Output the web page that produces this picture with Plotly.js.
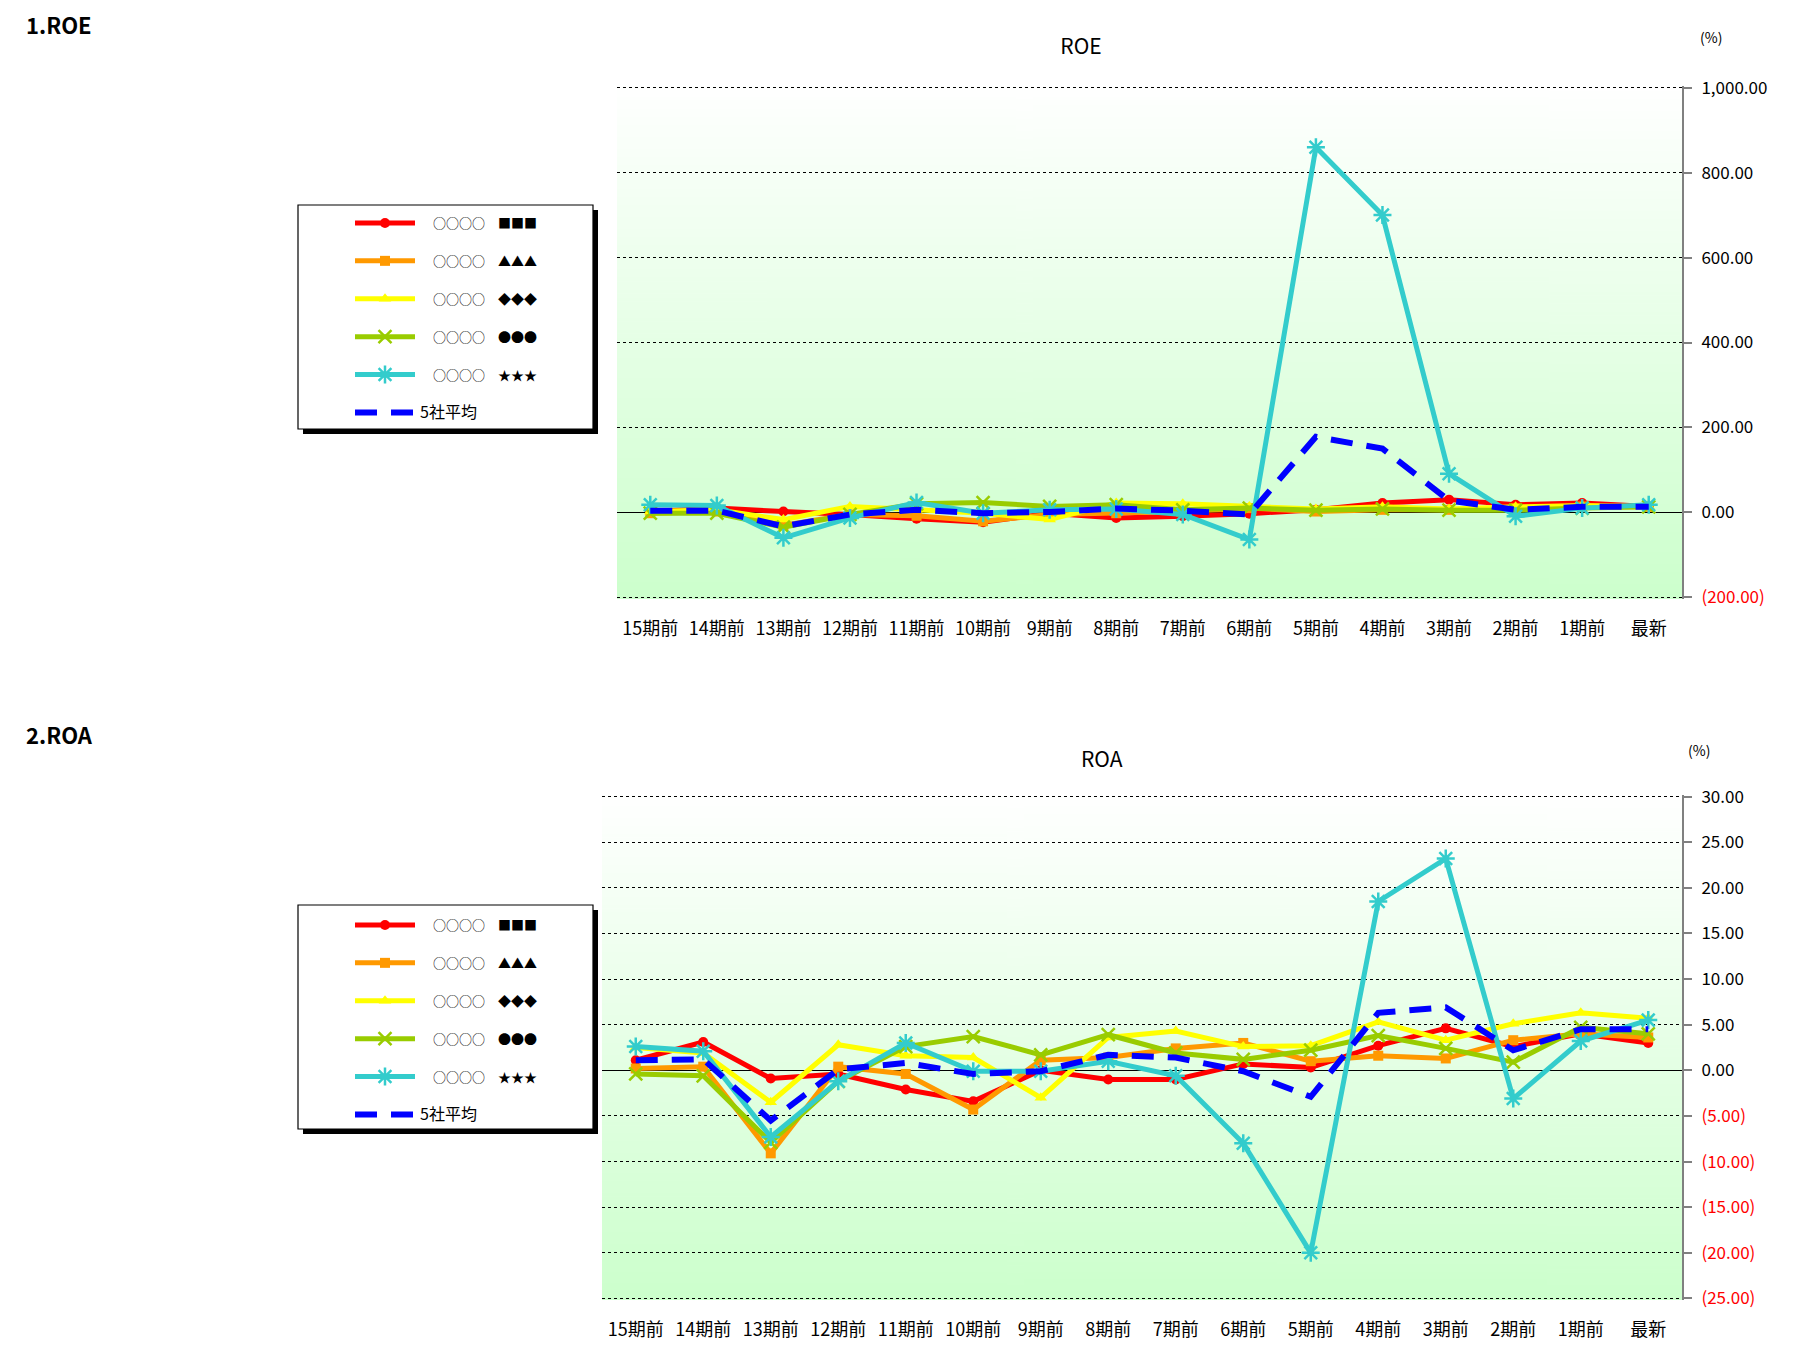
<!DOCTYPE html>
<html><head><meta charset="utf-8">
<script src="https://cdn.plot.ly/plotly-3.0.1.min.js"></script>
<style>html,body{margin:0;padding:0;background:#fff}#chart{width:1819px;height:1351px}</style>
</head><body><div id="chart"></div>
<script>
// ---------- data ----------
const categories = ['15期前','14期前','13期前','12期前','11期前','10期前','9期前','8期前','7期前','6期前','5期前','4期前','3期前','2期前','1期前','最新'];
const seriesNames = ['○○○○　■■■','○○○○　▲▲▲','○○○○　◆◆◆','○○○○　●●●','○○○○　★★★','5社平均'];

const roeRed    = [2, 10, 2, -5, -15, -23, -2, -13, -9, -3, 6, 22, 30, 18, 22, 14];
const roeOrange = [-2, 2, -30, -5, -8, -21, -5, -2, 2, 10, 2, 6, 6, 10, 14, 13];
const roeYellow = [2, 6, -17, 14, 6, -2, -17, 22, 20, 14, 8, 13, 8, 13, 16, 14];
const roeGreen  = [-2, -2, -35, -5, 20, 23, 14, 18, 6, 10, 5, 8, 5, 5, 10, 13];
const roeCyan   = [18, 16, -60, -13, 23, -2, 6, 8, -5, -64, 860, 700, 91, -9, 10, 18];
const roeAvg    = [4, 4, -33, -5, 6, -2, 1, 9, 4, -5, 178, 150, 28, 6, 13, 13];

const roaRed    = [1.1, 3.1, -0.9, -0.4, -2.1, -3.4, 0.0, -1.0, -1.0, 0.7, 0.3, 2.7, 4.6, 2.6, 4.0, 3.0];
const roaOrange = [0.2, 0.4, -9.1, 0.4, -0.4, -4.3, 1.1, 1.4, 2.4, 3.0, 1.0, 1.6, 1.3, 3.3, 4.0, 3.6];
const roaYellow = [2.5, 1.9, -3.5, 2.8, 1.6, 1.4, -3.0, 3.6, 4.3, 2.6, 2.7, 5.3, 3.3, 5.1, 6.3, 5.7];
const roaGreen  = [-0.4, -0.6, -7.9, -1.2, 2.6, 3.7, 1.7, 3.9, 1.9, 1.2, 2.2, 3.8, 2.4, 0.9, 4.7, 4.0];
const roaCyan   = [2.6, 2.1, -7.3, -1.2, 3.0, -0.1, -0.1, 1.0, -0.6, -8.0, -20.0, 18.5, 23.2, -3.1, 3.2, 5.5];
const roaAvg    = [1.1, 1.2, -5.5, 0.1, 0.8, -0.4, -0.1, 1.7, 1.4, -0.1, -2.9, 6.3, 6.9, 2.2, 4.5, 4.5];

const roeTickVals = [-200, 0, 200, 400, 600, 800, 1000];
const roeTickText = ['<span style="color:#ff0000">(200.00)</span>', '0.00', '200.00', '400.00', '600.00', '800.00', '1,000.00'];
const roaTickVals = [-25, -20, -15, -10, -5, 0, 5, 10, 15, 20, 25, 30];
const roaTickText = ['<span style="color:#ff0000">(25.00)</span>', '<span style="color:#ff0000">(20.00)</span>',
  '<span style="color:#ff0000">(15.00)</span>', '<span style="color:#ff0000">(10.00)</span>',
  '<span style="color:#ff0000">(5.00)</span>', '0.00', '5.00', '10.00', '15.00', '20.00', '25.00', '30.00'];

// ---------- styles ----------
const W = 1819, H = 1351;
const px = x => x / W, py = y => 1 - y / H;
const FONT = '"Noto Sans CJK JP", "Noto Sans", sans-serif';
const colors = ['#ff0000', '#ff9900', '#ffff00', '#99cc00', '#33cccc', '#0000ff'];
const markers = [
  {symbol: 'circle', size: 10},
  {symbol: 'square', size: 10},
  {symbol: 'triangle-up', size: 11},
  {symbol: 'x-thin-open', size: 13, line: {width: 2.5}},
  {symbol: 'asterisk-open', size: 15, line: {width: 2.5}},
];

function legendLabel(name, i) {
  return i === 5 ? '<span style="font-size:16px">' + name + '</span>' : '\u3000' + name;
}

function makeTraces(seriesList, xa, ya, legendId, prefix) {
  return seriesList.map((vals, i) => {
    const isAvg = i === 5;
    const t = {
      type: 'scatter', x: categories, y: vals, name: legendLabel(seriesNames[i], i),
      xaxis: xa, yaxis: ya, legend: legendId, legendgroup: prefix + i,
      mode: isAvg ? 'lines' : 'lines+markers',
      line: {color: colors[i], width: isAvg ? 6 : 5, dash: isAvg ? '22px,14px' : 'solid'},
      hoverinfo: 'x+y'
    };
    if (!isAvg) {
      const m = Object.assign({color: colors[i]}, markers[i]);
      m.line = Object.assign({color: colors[i]}, markers[i].line || {width: 0});
      t.marker = m;
    }
    return t;
  });
}

const traces = [
  ...makeTraces([roeRed, roeOrange, roeYellow, roeGreen, roeCyan, roeAvg], 'x', 'y', 'legend', 'roe'),
  ...makeTraces([roaRed, roaOrange, roaYellow, roaGreen, roaCyan, roaAvg], 'x2', 'y2', 'legend2', 'roa'),
];

// gradient background image
const cv = document.createElement('canvas');
cv.width = 4; cv.height = 256;
const ctx = cv.getContext('2d');
const g = ctx.createLinearGradient(0, 0, 0, 256);
g.addColorStop(0, '#ffffff');
g.addColorStop(1, '#ccffcc');
ctx.fillStyle = g; ctx.fillRect(0, 0, 4, 256);
const gradURL = cv.toDataURL('image/png');

// plot rectangles
const roeBox = {x0: 617, x1: 1682, y0: 86, y1: 599};
const roaBox = {x0: 602, x1: 1682, y0: 795, y1: 1300};

const xCommon = {
  type: 'category', range: [-0.5, categories.length - 0.5], showgrid: false, zeroline: false, showline: false, ticks: '',
  tickfont: {family: FONT, size: 18, color: '#000'}, ticklabelstandoff: 17, fixedrange: true
};
const yCommon = {
  side: 'right', showgrid: true, gridcolor: '#000000', griddash: 'dot', gridwidth: 1,
  zeroline: true, zerolinecolor: '#000000', zerolinewidth: 1.2,
  showline: true, linecolor: '#808080', linewidth: 2, ticks: 'outside', ticklen: 8, tickcolor: '#808080', tickwidth: 1.5,
  tickfont: {family: FONT, size: 17, color: '#000'}, ticklabelstandoff: 6, tickmode: 'array', fixedrange: true
};

function legendShapes(b) {
  return [
    {type: 'rect', xref: 'paper', yref: 'paper', x0: px(b.x0 + 5), x1: px(b.x1 + 5), y0: py(b.y1 + 5), y1: py(b.y0 + 5),
      fillcolor: '#000', line: {width: 0}, layer: 'above'},
    {type: 'rect', xref: 'paper', yref: 'paper', x0: px(b.x0), x1: px(b.x1), y0: py(b.y1), y1: py(b.y0),
      fillcolor: '#fff', line: {color: '#000', width: 1.2}, layer: 'above'}
  ];
}
const roeLegBox = {x0: 298, x1: 593, y0: 205, y1: 429};
const roaLegBox = {x0: 298, x1: 593, y0: 905, y1: 1129};

const legendCommon = {
  xref: 'paper', yref: 'paper', xanchor: 'left', yanchor: 'top',
  bgcolor: 'rgba(0,0,0,0)', borderwidth: 0, font: {family: FONT, size: 13, color: '#000'},
  tracegroupgap: 18, itemwidth: 60, itemclick: false, itemdoubleclick: false
};

const roeZeroPos = py(roeBox.y0 + (roeBox.y1 - roeBox.y0) * (1004 / 1208));
const roaZeroPos = py(roaBox.y0 + (roaBox.y1 - roaBox.y0) * (30.17 / 55.34));

const layout = {
  width: W, height: H, margin: {l: 0, r: 0, t: 0, b: 0},
  paper_bgcolor: '#ffffff', plot_bgcolor: 'rgba(0,0,0,0)',
  showlegend: true, hovermode: 'closest',
  font: {family: FONT, color: '#000'},
  title: {text: 'ROE', x: px(1081), xanchor: 'center', y: py(47), yanchor: 'middle',
    font: {family: FONT, size: 21, color: '#000'}},
  xaxis: Object.assign({}, xCommon, {domain: [px(roeBox.x0), px(roeBox.x1)], anchor: 'y'}),
  yaxis: Object.assign({}, yCommon, {domain: [py(roeBox.y1), py(roeBox.y0)], anchor: 'x', range: [-204, 1004],
    tickvals: roeTickVals, ticktext: roeTickText}),
  xaxis2: Object.assign({}, xCommon, {domain: [px(roaBox.x0), px(roaBox.x1)], anchor: 'y2'}),
  yaxis2: Object.assign({}, yCommon, {domain: [py(roaBox.y1), py(roaBox.y0)], anchor: 'x2', range: [-25.17, 30.17],
    tickvals: roaTickVals, ticktext: roaTickText}),
  // small category-boundary ticks on the zero lines
  xaxis3: {overlaying: 'x', anchor: 'free', position: roeZeroPos,
    range: [-0.5, 15.5], tick0: -0.5, dtick: 1, ticks: 'inside', ticklen: 5, tickcolor: '#000', tickwidth: 1,
    showticklabels: false, showgrid: false, zeroline: false, showline: false, fixedrange: true},
  xaxis4: {overlaying: 'x2', anchor: 'free', position: roaZeroPos,
    range: [-0.5, 15.5], tick0: -0.5, dtick: 1, ticks: 'inside', ticklen: 5, tickcolor: '#000', tickwidth: 1,
    showticklabels: false, showgrid: false, zeroline: false, showline: false, fixedrange: true},
  legend: Object.assign({}, legendCommon, {x: px(350), y: py(208)}),
  legend2: Object.assign({}, legendCommon, {x: px(350), y: py(910)}),
  images: [
    {source: gradURL, xref: 'x domain', yref: 'y domain', x: 0, y: 1, sizex: 1, sizey: 1,
      xanchor: 'left', yanchor: 'top', sizing: 'stretch', layer: 'below'},
    {source: gradURL, xref: 'x2 domain', yref: 'y2 domain', x: 0, y: 1, sizex: 1, sizey: 1,
      xanchor: 'left', yanchor: 'top', sizing: 'stretch', layer: 'below'}
  ],
  shapes: [...legendShapes(roeLegBox), ...legendShapes(roaLegBox)],
  annotations: [
    {text: '1.ROE', xref: 'paper', yref: 'paper', x: px(24), y: py(24), xanchor: 'left', yanchor: 'middle',
      showarrow: false, font: {family: FONT, size: 22, color: '#000', weight: 'bold'}},
    {text: '2.ROA', xref: 'paper', yref: 'paper', x: px(24), y: py(734), xanchor: 'left', yanchor: 'middle',
      showarrow: false, font: {family: FONT, size: 22, color: '#000', weight: 'bold'}},
    {text: 'ROA', xref: 'paper', yref: 'paper', x: px(1102), y: py(758), xanchor: 'center', yanchor: 'middle',
      showarrow: false, font: {family: FONT, size: 21, color: '#000'}},
    {text: '(%)', xref: 'paper', yref: 'paper', x: px(1711), y: py(37), xanchor: 'center', yanchor: 'middle',
      showarrow: false, font: {family: FONT, size: 14, color: '#000'}},
    {text: '(%)', xref: 'paper', yref: 'paper', x: px(1699), y: py(750), xanchor: 'center', yanchor: 'middle',
      showarrow: false, font: {family: FONT, size: 14, color: '#000'}}
  ]
};

Plotly.newPlot('chart', traces, layout, {displayModeBar: false});
</script>
</body></html>
